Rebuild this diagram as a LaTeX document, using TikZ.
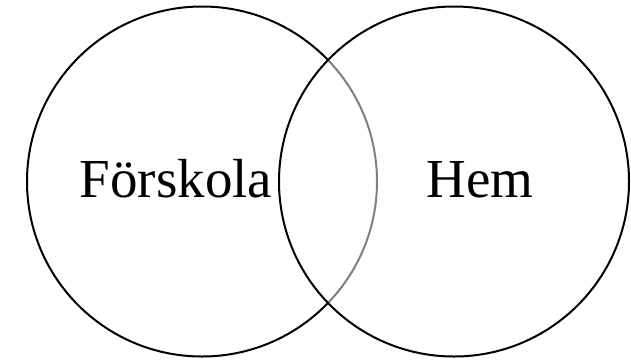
\documentclass[tikz,border=0pt]{standalone}
\usepackage{fontspec}
\setmainfont{Liberation Serif}
\usepackage{tikz}
\usetikzlibrary{positioning}

\begin{document}
\begin{tikzpicture}[
    x=1pt, y=-1pt,
    setcircle/.style={draw, circle, minimum size=350pt, inner sep=0pt, line width=2pt},
    label/.style={font=\fontsize{55}{60}\selectfont, inner sep=0pt},
]
    \useasboundingbox (0,0) rectangle (631,360);
    \node[setcircle] (preschool) at (202,181.5) {};
    \node[setcircle, fill=white, fill opacity=0.5] (home) at (454,181.5) {};
    \node[label, anchor=base] (preschooltext) at (176,197) {Förskola};
    \node[label, anchor=base] (hometext) at (480,197) {Hem};
\end{tikzpicture}
\end{document}
